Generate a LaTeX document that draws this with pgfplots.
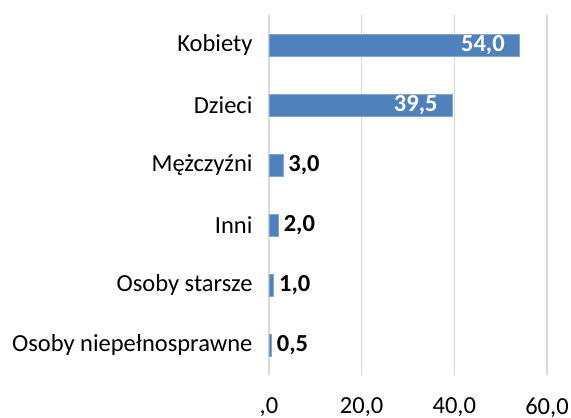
\documentclass[border=0pt]{standalone}
\usepackage{pgfplots}
\pgfplotsset{compat=1.18}
\usepackage{fontspec}
\setmainfont{Carlito}
\definecolor{barblue}{HTML}{4F81BD}
\definecolor{gridgray}{HTML}{D9D9D9}
\begin{document}
\begin{tikzpicture}
\useasboundingbox (-269bp,-43bp) rectangle (302bp,375bp);
\begin{axis}[
  scale only axis,
  width=278bp, height=360bp,
  xmin=0, xmax=60,
  ymin=-0.5, ymax=5.5,
  y dir=reverse,
  xbar, bar width=22bp, bar shift=0pt,
  axis line style={draw=none},
  major tick length=0pt,
  xtick={0,20,40,60},
  xticklabels={{,0},{20,0},{40,0},{60,0}},
  ytick={0,1,2,3,4,5},
  yticklabels={Kobiety,Dzieci,Mężczyźni,Inni,Osoby starsze,Osoby niepełnosprawne},
  xmajorgrids, grid style={gridgray, line width=1.3bp},
  tick label style={font=\fontsize{24.5bp}{29bp}\selectfont, text=black},
  yticklabel style={xshift=-13bp},
  xticklabel style={inner xsep=1bp, yshift=-19bp},
  /pgf/number format/assume math mode=true,
  clip=false,
]
\addplot[fill=barblue, draw=barblue!70!white, line width=0.6bp] coordinates {
  (54.0,0) (39.5,1) (3.0,2) (2.0,3) (1.0,4) (0.5,5)
};
\addplot[draw=none, fill=none, forget plot,
  nodes near coords={\pgfmathprintnumber[fixed,fixed zerofill,precision=1,use comma]{\pgfplotspointmeta}},
  nodes near coords style={anchor=east, text=white, font=\fontsize{24.5bp}{29bp}\selectfont\bfseries, xshift=-11bp},
] coordinates {
  (54.0,0) (39.5,1)
};
\addplot[draw=none, fill=none, forget plot,
  nodes near coords={\pgfmathprintnumber[fixed,fixed zerofill,precision=1,use comma]{\pgfplotspointmeta}},
  nodes near coords style={anchor=west, text=black, font=\fontsize{24.5bp}{29bp}\selectfont\bfseries, xshift=2bp},
] coordinates {
  (3.0,2) (2.0,3) (1.0,4) (0.5,5)
};
\end{axis}
\end{tikzpicture}
\end{document}
